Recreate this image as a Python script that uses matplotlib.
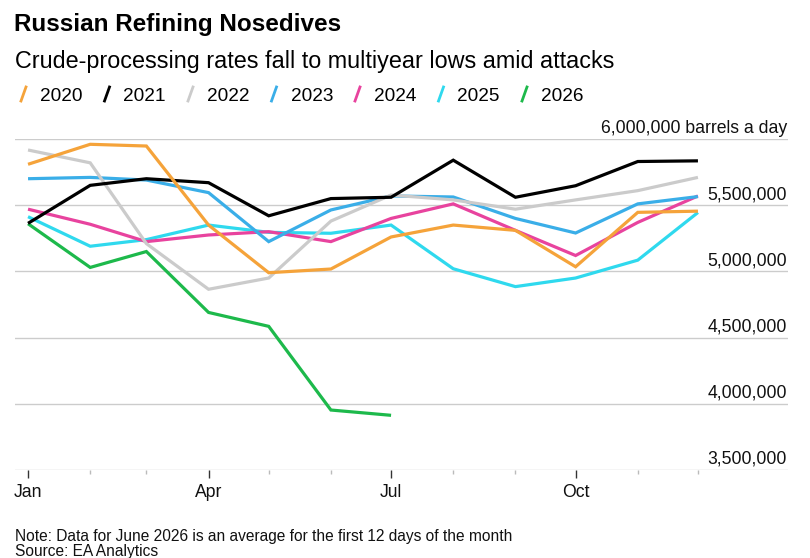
import matplotlib
matplotlib.use("Agg")
import matplotlib.pyplot as plt
from matplotlib.lines import Line2D
from matplotlib.transforms import blended_transform_factory, offset_copy

plt.rcParams['font.family'] = ['Liberation Sans', 'DejaVu Sans']

# ---- data ----
month_starts = [0, 31, 59, 90, 120, 151, 181, 212, 243, 273, 304, 334]  # day of year
major_ticks = [0, 90, 181, 273]
major_labels = ["Jan", "Apr", "Jul", "Oct"]

years = ["2020", "2021", "2022", "2023", "2024", "2025", "2026"]
colors = ["#F5A33A", "#000000", "#CBCBCB", "#3AAEE8", "#E8439E", "#2FD9EE", "#1DB94B"]

v2020 = [5.809, 5.96, 5.947, 5.35, 4.99, 5.018, 5.26, 5.35, 5.31, 5.035, 5.446, 5.455]
v2021 = [5.363, 5.65, 5.70, 5.67, 5.42, 5.55, 5.56, 5.84, 5.56, 5.647, 5.83, 5.835]
v2022 = [5.917, 5.82, 5.21, 4.865, 4.95, 5.38, 5.577, 5.54, 5.47, 5.54, 5.61, 5.71]
v2023 = [5.70, 5.71, 5.69, 5.595, 5.225, 5.464, 5.57, 5.562, 5.40, 5.29, 5.51, 5.565]
v2024 = [5.47, 5.356, 5.225, 5.275, 5.30, 5.225, 5.40, 5.51, 5.31, 5.12, 5.37, 5.57]
v2025 = [5.413, 5.19, 5.24, 5.35, 5.295, 5.288, 5.35, 5.02, 4.885, 4.95, 5.085, 5.445]
v2026 = [5.36, 5.03, 5.15, 4.69, 4.585, 3.953, 3.913]
series = [v2020, v2021, v2022, v2023, v2024, v2025, v2026]

y_ticks = [3.5e6, 4.0e6, 4.5e6, 5.0e6, 5.5e6, 6.0e6]
y_labels = ["3,500,000", "4,000,000", "4,500,000", "5,000,000", "5,500,000",
            "6,000,000 barrels a day"]

title = "Russian Refining Nosedives"
subtitle = "Crude-processing rates fall to multiyear lows amid attacks"
note = "Note: Data for June 2026 is an average for the first 12 days of the month"
source = "Source: EA Analytics"

# ---- figure ----
W, H = 810, 558
fig = plt.figure(figsize=(W / 100, H / 100), dpi=100)
ax = fig.add_axes([15 / W, 1 - 470 / H, (788 - 15) / W, (470 - 139) / H])

n = len(series)
for i, (yr, col, vals) in enumerate(zip(years, colors, series)):
    ax.plot(month_starts[:len(vals)], [v * 1e6 for v in vals], color=col,
            lw=2.3, solid_joinstyle='miter', solid_capstyle='butt',
            zorder=10 + (n - i))

ax.set_xlim(-6.5, 378.9)
ax.set_ylim(3.5e6, 6.0e6)

for s in ax.spines.values():
    s.set_visible(False)

for yt in y_ticks:
    ax.axhline(yt, color="#CCCCCC", lw=1.0, zorder=1)

trans = blended_transform_factory(ax.transAxes, ax.transData)
trans_off = offset_copy(trans, fig=fig, x=-1, y=6, units='dots')
for yt, lab in zip(y_ticks, y_labels):
    ax.text(1.0, yt, lab, transform=trans_off, ha='right', va='baseline',
            fontsize=12.7, color="#111111", zorder=30)

ax.set_yticks([])
ax.set_xticks(major_ticks)
ax.set_xticklabels(major_labels, fontsize=12.7, color="#111111")
ax.set_xticks(month_starts, minor=True)
ax.tick_params(axis='x', which='major', length=5.5, width=1, color="#333333",
               pad=4.5, direction='out')
ax.tick_params(axis='x', which='minor', length=3, width=1, color="#BBBBBB",
               direction='out')

# ---- titles ----
fig.text(14 / W, 1 - 31 / H, title, fontsize=17.5, fontweight='bold',
         ha='left', va='baseline', color="#000000")
fig.text(15 / W, 1 - 68 / H, subtitle, fontsize=16.8, ha='left', va='baseline',
         color="#000000")

# ---- legend ----
leg_y = 1 - 101 / H
for i, (yr, col) in enumerate(zip(years, colors)):
    tx = 40 + i * 83.5
    sx = tx - 19
    fig.add_artist(Line2D([sx / W, (sx + 5) / W], [1 - 101 / H, 1 - 87 / H],
                          color=col, lw=2.0, transform=fig.transFigure))
    fig.text(tx / W, leg_y, yr, fontsize=13.7, ha='left', va='baseline',
             color="#000000")

# ---- footnotes ----
fig.text(15 / W, 1 - 541 / H, note, fontsize=11.2, ha='left', va='baseline',
         color="#111111")
fig.text(15 / W, 1 - 556 / H, source, fontsize=11.2, ha='left', va='baseline',
         color="#111111")

fig.savefig("out.png", dpi=100)
